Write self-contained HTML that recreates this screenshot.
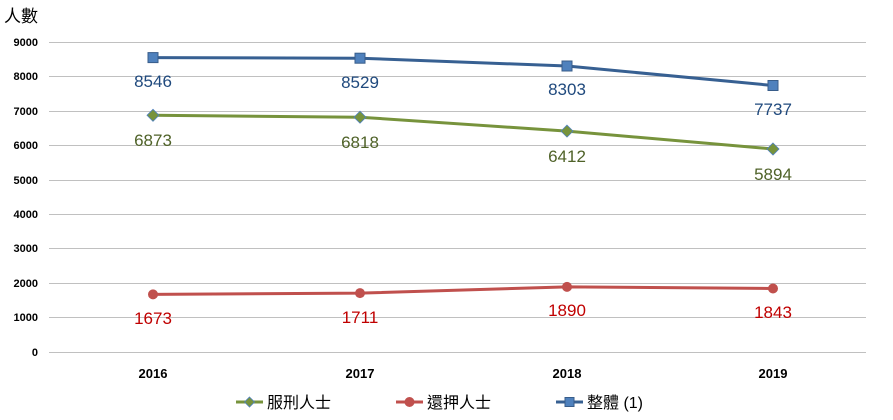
<!DOCTYPE html>
<html><head><meta charset="utf-8"><style>
body{margin:0;background:#fff}
svg{display:block}
.t{font-family:"Liberation Sans","Noto Sans CJK TC",sans-serif}
</style></head><body>
<svg width="893" height="420" xmlns="http://www.w3.org/2000/svg" class="t">
<text x="4" y="22" font-size="17" fill="#000">人數</text>
<g stroke="#c0c0c0" stroke-width="1">
<line x1="49" y1="42.5" x2="866" y2="42.5"/><line x1="49" y1="76.5" x2="866" y2="76.5"/>
<line x1="49" y1="111.5" x2="866" y2="111.5"/><line x1="49" y1="145.5" x2="866" y2="145.5"/>
<line x1="49" y1="180.5" x2="866" y2="180.5"/><line x1="49" y1="214.5" x2="866" y2="214.5"/>
<line x1="49" y1="248.5" x2="866" y2="248.5"/><line x1="49" y1="283.5" x2="866" y2="283.5"/>
<line x1="49" y1="317.5" x2="866" y2="317.5"/><line x1="49" y1="352.5" x2="866" y2="352.5"/>
</g>
<g font-size="11" fill="#000" text-anchor="end" font-weight="bold">
<text x="38" y="46">9000</text><text x="38" y="80">8000</text><text x="38" y="115">7000</text>
<text x="38" y="149">6000</text><text x="38" y="184">5000</text><text x="38" y="218">4000</text>
<text x="38" y="252">3000</text><text x="38" y="287">2000</text><text x="38" y="321">1000</text>
<text x="38" y="356">0</text>
</g>
<g font-size="13" font-weight="bold" text-anchor="middle">
<text x="153" y="378">2016</text><text x="360" y="378">2017</text><text x="567" y="378">2018</text><text x="773" y="378">2019</text>
</g>
<polyline points="153,57.6 360,58.2 567,66 773,85.5" fill="none" stroke="#376092" stroke-width="3"/>
<polyline points="153,115.3 360,117.2 567,131.1 773,149" fill="none" stroke="#77933C" stroke-width="3"/>
<polyline points="153,294.4 360,293.1 567,286.9 773,288.5" fill="none" stroke="#C0504D" stroke-width="3"/>
<g fill="#4F81BD" stroke="#385D8A" stroke-width="1">
<rect x="148" y="52.6" width="10" height="10"/><rect x="355" y="53.2" width="10" height="10"/>
<rect x="562" y="61" width="10" height="10"/><rect x="768" y="80.5" width="10" height="10"/>
</g>
<g fill="#77933C" stroke="#4F81BD" stroke-width="0.8">
<polygon points="153,109.3 159,115.3 153,121.3 147,115.3"/><polygon points="360,111.2 366,117.2 360,123.2 354,117.2"/>
<polygon points="567,125.1 573,131.1 567,137.1 561,131.1"/><polygon points="773,143 779,149 773,155 767,149"/>
</g>
<g fill="#C0504D">
<circle cx="153" cy="294.4" r="5"/><circle cx="360" cy="293.1" r="5"/><circle cx="567" cy="286.9" r="5"/><circle cx="773" cy="288.5" r="5"/>
</g>
<g font-size="17" text-anchor="middle" fill="#1F497D">
<text x="153" y="87">8546</text><text x="360" y="88">8529</text><text x="567" y="95">8303</text><text x="773" y="115">7737</text>
</g>
<g font-size="17" text-anchor="middle" fill="#4F6228">
<text x="153" y="146">6873</text><text x="360" y="148">6818</text><text x="567" y="162">6412</text><text x="773" y="180">5894</text>
</g>
<g font-size="17" text-anchor="middle" fill="#C00000">
<text x="153" y="324">1673</text><text x="360" y="323">1711</text><text x="567" y="316">1890</text><text x="773" y="318">1843</text>
</g>
<line x1="236" y1="402" x2="263" y2="402" stroke="#77933C" stroke-width="3"/>
<polygon points="249.5,397 254.5,402 249.5,407 244.5,402" fill="#77933C" stroke="#4F81BD" stroke-width="0.8"/>
<text x="267" y="408" font-size="16">服刑人士</text>
<line x1="396" y1="402" x2="423" y2="402" stroke="#C0504D" stroke-width="3"/>
<circle cx="409.5" cy="402" r="5" fill="#C0504D"/>
<text x="427" y="408" font-size="16">還押人士</text>
<line x1="556" y1="402" x2="583" y2="402" stroke="#376092" stroke-width="3"/>
<rect x="565" y="397.5" width="9" height="9" fill="#4F81BD" stroke="#385D8A"/>
<text x="587" y="408" font-size="16">整體 (1)</text>
</svg>
</body></html>
